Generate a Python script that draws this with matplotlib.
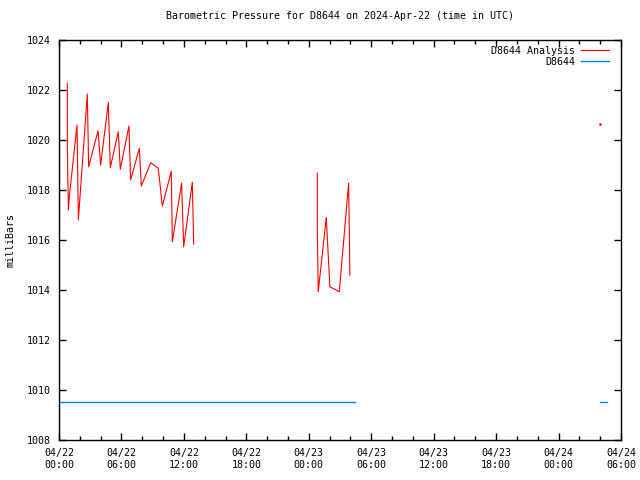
import numpy as np
import matplotlib
matplotlib.use("Agg")
import matplotlib.pyplot as plt
from matplotlib.ticker import FixedLocator, MultipleLocator

# hours since 2024-04-22 00:00 UTC
analysis_hours = [0.80, 0.80, 0.90, 0.99, 1.73, 1.86, 2.72, 2.85, 3.75, 4.00,
                  4.74, 4.93, 5.70, 5.89, 6.72, 6.88, 7.72, 7.91, 8.81, 9.54,
                  9.93, 10.79, 10.89, 11.78, 11.98, 12.81, 12.94,
                  None,
                  24.82, 24.82, 24.91, 25.68, 26.03, 26.93, 27.83, 27.95,
                  None,
                  52.0]
analysis_mb = [1022.27, 1019.73, 1017.2, 1017.73, 1020.6, 1016.8, 1021.84, 1018.93,
               1020.37, 1019.0, 1021.5, 1018.9, 1020.33, 1018.83, 1020.56, 1018.4,
               1019.67, 1018.16, 1019.09, 1018.87, 1017.36, 1018.75, 1015.93,
               1018.27, 1015.73, 1018.31, 1015.83,
               None,
               1018.67, 1016.33, 1013.93, 1016.9, 1014.13, 1013.93, 1018.27, 1014.6,
               None,
               1020.63]

obs_hours = [0.0, 28.4, None, 52.0, 52.7]
obs_mb = [1009.52, 1009.52, None, 1009.52, 1009.52]

tick_hours = [0, 6, 12, 18, 24, 30, 36, 42, 48, 54]
tick_labels = ["04/22\n00:00", "04/22\n06:00", "04/22\n12:00", "04/22\n18:00",
               "04/23\n00:00", "04/23\n06:00", "04/23\n12:00", "04/23\n18:00",
               "04/24\n00:00", "04/24\n06:00"]


def to_arr(vals):
    return np.array([np.nan if v is None else v for v in vals], dtype=float)


plt.rcParams["font.family"] = ["DejaVu Sans Mono"]
plt.rcParams["font.size"] = 7.2

fig = plt.figure(figsize=(6.4, 4.8), dpi=100)
ax = fig.add_axes([59 / 640, 40 / 480, 562 / 640, 400 / 480])

ax.plot(to_arr(analysis_hours), to_arr(analysis_mb), color="#ff0000", lw=0.8,
        label="D8644 Analysis")
# lone analysis point near the end
ax.plot(analysis_hours[-1:], analysis_mb[-1:], color="#ff0000", marker="s",
        ms=0.8, lw=0)
ax.plot(to_arr(obs_hours), to_arr(obs_mb), color="#0080ff", lw=1.0, label="D8644")

ax.set_xlim(0, 54)
ax.set_ylim(1008, 1024)
ax.xaxis.set_major_locator(FixedLocator(tick_hours))
ax.set_xticklabels(tick_labels)
ax.xaxis.set_minor_locator(MultipleLocator(2))
ax.yaxis.set_major_locator(MultipleLocator(2))
ax.tick_params(which="both", direction="in", top=True, right=True, width=1)
ax.tick_params(which="major", length=5, pad=6)
ax.tick_params(which="minor", length=3)
for s in ax.spines.values():
    s.set_linewidth(1)

ax.set_title("Barometric Pressure for D8644 on 2024-Apr-22 (time in UTC)",
             fontsize=7.2, pad=15)
ax.set_ylabel("milliBars", labelpad=8)

ax.legend(loc="upper right", bbox_to_anchor=(1 - 6 / 562, 1), frameon=False,
          markerfirst=False, handlelength=2.8, borderaxespad=0.2,
          labelspacing=0.1, handletextpad=0.6)

fig.savefig("out.png", dpi=100)
